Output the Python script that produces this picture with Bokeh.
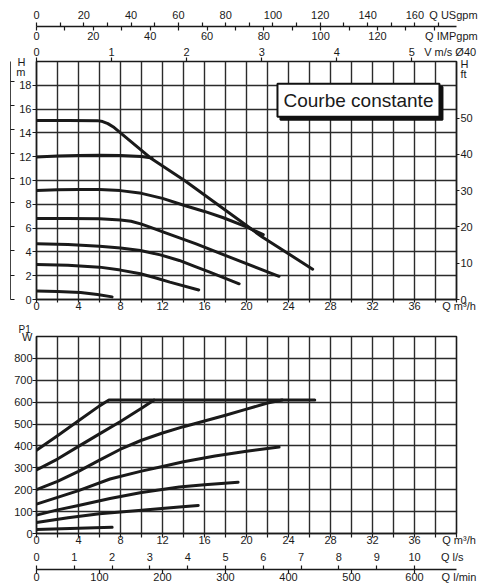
from bokeh.plotting import figure
from bokeh.models import LinearAxis, Range1d, FixedTicker, CustomJSTickFormatter, Label, Title
from bokeh.layouts import column
from bokeh.embed import file_html
from bokeh.resources import INLINE

# ---------------- data ----------------
# Head curves H [m] vs Q [m3/h]
q_h1 = [0, 3, 5.8, 6.3, 6.8, 7.4, 11.0, 14.1, 21.5, 26.3]
h_h1 = [15.05, 15.05, 15.03, 14.95, 14.78, 14.45, 11.8, 10.0, 5.25, 2.55]
q_h2 = [0, 2, 4, 6, 8, 10, 11]
h_h2 = [11.97, 12.05, 12.1, 12.12, 12.1, 12.02, 11.9]
q_h3 = [0, 2, 4, 6, 8, 10, 12, 14.1, 16, 17.8, 20, 21.6]
h_h3 = [9.17, 9.22, 9.25, 9.25, 9.15, 8.92, 8.5, 7.9, 7.4, 6.87, 6.1, 5.45]
q_h4 = [0, 3, 6, 8, 9, 10, 11, 12.1, 15.2, 18.4, 23.1]
h_h4 = [6.81, 6.81, 6.78, 6.68, 6.57, 6.33, 6.02, 5.66, 4.68, 3.56, 1.95]
q_h5 = [0, 3, 6, 8, 9.9, 11.8, 13.6, 15, 16.5, 19.3]
h_h5 = [4.68, 4.62, 4.48, 4.33, 4.12, 3.75, 3.28, 2.8, 2.3, 1.32]
q_h6 = [0, 3, 6, 8, 9.9, 11.3, 12.7, 15.45]
h_h6 = [2.94, 2.88, 2.72, 2.47, 2.16, 1.83, 1.46, 0.8]
q_h7 = [0, 2, 4.2, 5.8, 7.2]
h_h7 = [0.72, 0.68, 0.58, 0.42, 0.22]
head_curves = [(q_h1, h_h1), (q_h2, h_h2), (q_h3, h_h3), (q_h4, h_h4),
               (q_h5, h_h5), (q_h6, h_h6), (q_h7, h_h7)]

# Power curves P1 [W] vs Q [m3/h]
q_p1 = [0, 2, 4, 6, 6.9, 26.5]
p_p1 = [380, 447, 515, 583, 610, 610]
q_p2 = [0, 2, 4, 6, 8, 10, 11.2]
p_p2 = [290, 340, 398, 455, 512, 572, 610]
q_p3 = [0, 2, 4, 6, 8, 10, 12, 14, 16, 18, 20, 22, 23.4]
p_p3 = [200, 238, 284, 335, 385, 426, 459, 488, 514, 540, 568, 596, 610]
q_p4 = [0, 2, 4, 7, 10, 12, 14, 17, 20, 23.1]
p_p4 = [134, 165, 196, 249, 285, 306, 328, 354, 376, 395]
q_p5 = [0, 2, 4, 7, 10, 13.6, 16, 19.2]
p_p5 = [84, 108, 128, 160, 187, 212, 223, 234]
q_p6 = [0, 3, 6, 10, 13.6, 15.4]
p_p6 = [50, 72, 90, 106, 121, 128]
q_p7 = [0, 7.2]
p_p7 = [18, 28]
power_curves = [(q_p1, p_p1), (q_p2, p_p2), (q_p3, p_p3), (q_p4, p_p4),
                (q_p5, p_p5), (q_p6, p_p6), (q_p7, p_p7)]

# tick labels / scales
q_ticks = [0, 4, 8, 12, 16, 20, 24, 28, 32, 36]
q_marks = list(range(0, 41, 2))
h_ticks = [0, 2, 4, 6, 8, 10, 12, 14, 16, 18]
ft_ticks = [0, 10, 20, 30, 40, 50]
kpa_marks = list(range(0, 181, 20))
p_ticks = [0, 100, 200, 300, 400, 500, 600, 700, 800]
usgpm_ticks = [0, 20, 40, 60, 80, 100, 120, 140, 160]
usgpm_marks = list(range(0, 171, 10))
impgpm_ticks = [0, 20, 40, 60, 80, 100, 120]
impgpm_marks = list(range(0, 141, 10))
v_ticks = [0, 1, 2, 3, 4, 5]
lps_ticks = [0, 1, 2, 3, 4, 5, 6, 7, 8, 9, 10]
lpm_ticks = [0, 100, 200, 300, 400, 500, 600]

Q_MAX = 40
USGPM = 4.44        # USgpm per m3/h (as drawn)
IMPGPM = 3.695      # IMPgpm per m3/h (as drawn)
Q_PER_V = 7.15      # m3/h per m/s (Ø40 scale as drawn)
FT = 0.3048

FONT = "Liberation Sans"
FS = "11px"
INK = "#1a1a1a"
GRID = "#2b2b2b"
NB = "\\u00a0"


def fmt(code):
    return CustomJSTickFormatter(code=code)


def style_axis(ax, tick_out=0, tick_in=0, minor_out=0, minor_in=0, standoff=1, line=True, fs=FS):
    ax.major_tick_out = tick_out
    ax.major_tick_in = tick_in
    ax.minor_tick_out = minor_out
    ax.minor_tick_in = minor_in
    ax.major_label_standoff = standoff
    ax.major_label_text_font = FONT
    ax.major_label_text_font_size = fs
    ax.major_label_text_color = INK
    ax.major_tick_line_color = INK
    ax.minor_tick_line_color = INK
    ax.major_tick_line_width = 1.2
    ax.minor_tick_line_width = 1.2
    ax.axis_line_color = INK if line else None
    ax.axis_line_width = 1.3


def style_frame(p, yticks):
    p.xgrid.ticker = FixedTicker(ticks=q_marks)
    p.ygrid.ticker = FixedTicker(ticks=yticks)
    for g in (p.xgrid, p.ygrid):
        g.grid_line_color = GRID
        g.grid_line_width = 1.4
    p.outline_line_color = INK
    p.outline_line_width = 1.6


# ---------------- top chart: H ----------------
p1 = figure(width=480, height=315, x_range=Range1d(0, Q_MAX), y_range=Range1d(0, 20),
            output_backend="svg", toolbar_location=None,
            x_axis_location=None, y_axis_location=None,
            min_border_left=36, min_border_right=24, min_border_top=61, min_border_bottom=16)
p1.extra_y_ranges = {"ft": Range1d(0, 20 / FT), "kpa": Range1d(0, 20 * 9.80665)}
p1.extra_x_ranges = {"v": Range1d(0, Q_MAX / Q_PER_V),
                     "imp": Range1d(0, Q_MAX * IMPGPM),
                     "us": Range1d(0, Q_MAX * USGPM)}
style_frame(p1, list(range(0, 21, 2)))

# bottom Q axis
ax = LinearAxis(ticker=FixedTicker(ticks=q_ticks + [39.95], minor_ticks=q_marks),
                formatter=fmt("return tick > 37 ? '" + NB + NB + "Q m³/h' : tick.toFixed(0);"))
style_axis(ax, minor_out=3, standoff=-3)
p1.add_layout(ax, "below")

# left H [m] axis
ay = LinearAxis(ticker=FixedTicker(ticks=h_ticks + [19.1, 20], minor_ticks=h_ticks),
                formatter=fmt("if (tick > 19.5) return 'H" + NB + NB + "';"
                              "if (tick > 18.5) return 'm" + NB + NB + "';"
                              "return '" + NB + NB + "' + tick.toFixed(0);"))
style_axis(ay, minor_out=4, standoff=1)
p1.add_layout(ay, "left")

# faint outer pressure scale (its labels lie outside the sheet)
ak = LinearAxis(y_range_name="kpa", ticker=FixedTicker(ticks=[], minor_ticks=kpa_marks))
style_axis(ak, minor_in=4, standoff=0, fs="1px")
ak.axis_line_color = "#444"
ak.axis_line_width = 1
p1.add_layout(ak, "left")

# right H [ft] axis
ar = LinearAxis(y_range_name="ft", ticker=FixedTicker(ticks=ft_ticks + [62.1, 65.0], minor_ticks=ft_ticks),
                formatter=fmt("if (tick > 64) return 'H'; if (tick > 61) return 'ft'; return tick.toFixed(0);"))
style_axis(ar, minor_out=3, standoff=1)
p1.add_layout(ar, "right")

# top: velocity
av = LinearAxis(x_range_name="v", ticker=FixedTicker(ticks=v_ticks + [5.51], minor_ticks=v_ticks),
                formatter=fmt("return tick > 5.2 ? 'V m/s Ø40' : tick.toFixed(0);"))
style_axis(av, minor_out=4, standoff=0, line=False)
p1.add_layout(av, "above")

# top: IMPgpm labels
ai = LinearAxis(x_range_name="imp", ticker=FixedTicker(ticks=impgpm_ticks + [146.0], minor_ticks=[]),
                formatter=fmt("return tick > 130 ? 'Q IMPgpm' : tick.toFixed(0);"))
style_axis(ai, standoff=1, line=False)
p1.add_layout(ai, "above")

# top: IMPgpm tick marks (hanging below the shared line)
aim = LinearAxis(x_range_name="imp", ticker=FixedTicker(ticks=[], minor_ticks=impgpm_marks))
style_axis(aim, minor_in=4, standoff=0, line=False, fs="1px")
p1.add_layout(aim, "above")

# top: USgpm
au = LinearAxis(x_range_name="us", ticker=FixedTicker(ticks=usgpm_ticks + [176.3], minor_ticks=usgpm_marks),
                formatter=fmt("return tick > 170 ? 'Q USgpm' : tick.toFixed(0);"))
style_axis(au, minor_out=4, standoff=2)
p1.add_layout(au, "above")

for q, h in head_curves:
    p1.line(q, h, line_width=3, line_color=INK, line_join="round", line_cap="round")

box_kw = dict(x=22.95, y=16.75, text="Courbe constante", text_font=FONT,
              text_font_size="19px", text_align="left", text_baseline="alphabetic", padding=6)
p1.add_layout(Label(x_offset=3, y_offset=-3, text_color="#111", background_fill_color="#111",
                    border_line_color="#111", border_line_width=2, **box_kw))
p1.add_layout(Label(text_color=INK, background_fill_color="white",
                    border_line_color="#111", border_line_width=2, **box_kw))

# ---------------- bottom chart: P1 ----------------
p2 = figure(width=480, height=273, x_range=p1.x_range, y_range=Range1d(0, 900),
            output_backend="svg", toolbar_location=None,
            x_axis_location=None, y_axis_location=None,
            min_border_left=36, min_border_right=24, min_border_top=21, min_border_bottom=55)
p2.extra_x_ranges = {"lps": Range1d(0, Q_MAX / 3.6), "lpm": Range1d(0, Q_MAX * 1000 / 60)}
style_frame(p2, list(range(0, 901, 100)))

p2.add_layout(Title(text="P1", align="left", offset=-18, standoff=3, text_font=FONT,
                    text_font_size="10px", text_font_style="normal", text_color=INK), "above")

by = LinearAxis(ticker=FixedTicker(ticks=p_ticks + [900], minor_ticks=p_ticks),
                formatter=fmt("return tick > 850 ? 'W' : tick.toFixed(0);"))
style_axis(by, minor_out=4, standoff=0)
p2.add_layout(by, "left")

bx = LinearAxis(ticker=FixedTicker(ticks=q_ticks + [39.95], minor_ticks=q_marks),
                formatter=fmt("return tick > 37 ? '" + NB + NB + "Q m³/h' : tick.toFixed(0);"))
style_axis(bx, minor_out=4, standoff=-4)
p2.add_layout(bx, "below")

bls = LinearAxis(x_range_name="lps", ticker=FixedTicker(ticks=lps_ticks + [11.0], minor_ticks=[]),
                 formatter=fmt("return tick > 10.5 ? 'Q l/s' : tick.toFixed(0);"))
style_axis(bls, standoff=2, line=False)
p2.add_layout(bls, "below")

blsm = LinearAxis(x_range_name="lps", ticker=FixedTicker(ticks=[], minor_ticks=lps_ticks))
style_axis(blsm, minor_out=4, standoff=-1, line=False, fs="1px")
p2.add_layout(blsm, "below")

blm = LinearAxis(x_range_name="lpm", ticker=FixedTicker(ticks=lpm_ticks + [665.8], minor_ticks=lpm_ticks),
                 formatter=fmt("return tick > 640 ? '" + NB + NB + "Q l/min' : tick.toFixed(0);"))
style_axis(blm, minor_out=4, standoff=-3)
p2.add_layout(blm, "below")

for q, pw in power_curves:
    p2.line(q, pw, line_width=3, line_color=INK, line_join="round", line_cap="round")

layout = column(p1, p2, spacing=0)
with open("out.html", "w", encoding="utf-8") as f:
    f.write(file_html(layout, INLINE))
